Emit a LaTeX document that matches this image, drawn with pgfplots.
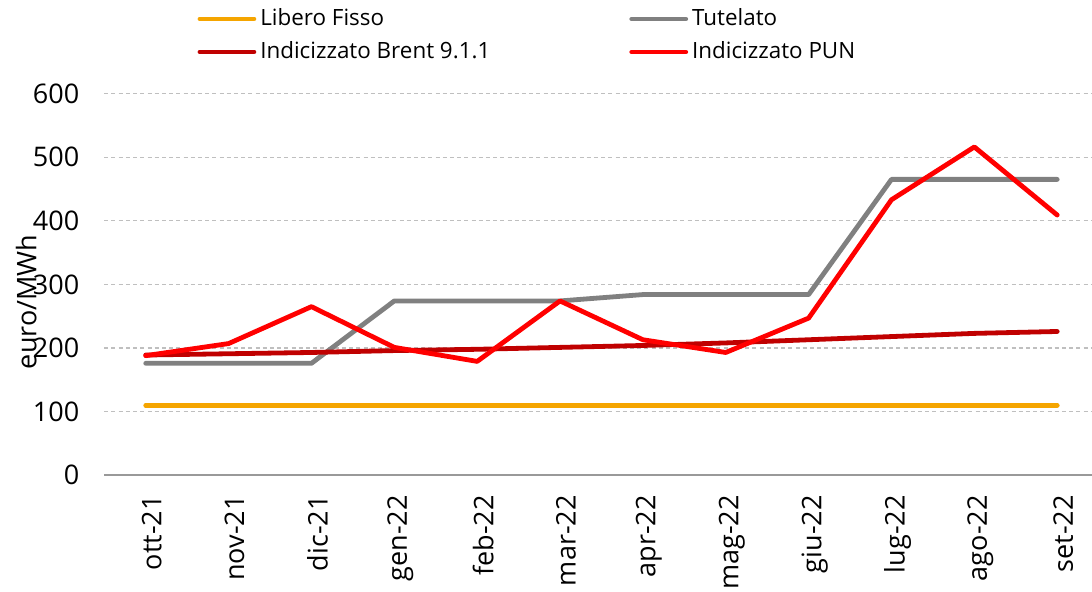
\documentclass[border=0pt]{standalone}
\usepackage{fontspec}
\setmainfont{Open Sans}
\usepackage{pgfplots}
\pgfplotsset{compat=1.18}
\definecolor{libfisso}{HTML}{F5A500}
\definecolor{tutelato}{HTML}{808080}
\definecolor{brent}{HTML}{C00000}
\definecolor{pun}{HTML}{FF0000}
\definecolor{gridgray}{HTML}{BFBFBF}

\begin{document}
\begin{tikzpicture}
\path[use as bounding box] (0,0) rectangle (546pt,296pt);
\begin{axis}[at={(52.15pt,58.35pt)},anchor=south west,
  scale only axis,width=493.85pt,height=190.9pt,
  xmin=-0.5,xmax=11.42,ymin=0,ymax=600,
  ytick={0,100,...,600},
  xtick={0,...,11},
  xticklabels={ott-21,nov-21,dic-21,gen-22,feb-22,mar-22,apr-22,mag-22,giu-22,lug-22,ago-22,set-22},
  /pgf/number format/assume math mode=true,
  axis line style={draw=none},major tick length=0pt,
  ymajorgrids,
  grid style={gridgray,line width=0.6pt,dash pattern=on 2pt off 1.6pt},
  extra y ticks={0},extra y tick labels={},
  extra y tick style={grid style={solid,gridgray!80!black,line width=0.8pt}},
  yticklabel style={font=\fontsize{13.5}{15}\selectfont,xshift=-9pt},
  xticklabel style={font=\fontsize{13.5}{15}\selectfont,xshift=3pt,yshift=-6.5pt,rotate=90,anchor=east},
  ylabel={euro/MWh},
  ylabel style={font=\fontsize{13.5}{15}\selectfont,at={(rel axis cs:-0.079,0.454)},anchor=center,rotate=0},
  legend columns=2,
  legend style={draw=none,fill=none,inner sep=0pt,
    at={(rel axis cs:0.094,1.233)},anchor=north west,
    font=\fontsize{11.2}{12}\selectfont,
    row sep=2.5pt,
    /tikz/column 2/.style={column sep=67.5pt}},
  legend cell align=left,
  legend image code/.code={\draw[#1,line cap=round] (0pt,0pt) -- (27pt,0pt);},
  every axis plot/.append style={line width=2.4pt,line join=round,line cap=round},
]
\addplot[libfisso] coordinates {(0,110)(1,110)(2,110)(3,110)(4,110)(5,110)(6,110)(7,110)(8,110)(9,110)(10,110)(11,110)};
\addplot[tutelato] coordinates {(0,176)(1,176)(2,176)(3,274)(4,274)(5,274)(6,284)(7,284)(8,284)(9,465)(10,465)(11,465)};
\addplot[brent] coordinates {(0,189)(1,191)(2,193)(3,196)(4,198)(5,201)(6,204)(7,208)(8,213)(9,218)(10,223)(11,226)};
\addplot[pun] coordinates {(0,188)(1,207)(2,265)(3,201)(4,179)(5,274)(6,213)(7,193)(8,247)(9,433)(10,516)(11,409)};
\legend{Libero Fisso,Tutelato,Indicizzato Brent 9.1.1,Indicizzato PUN}
\end{axis}
\end{tikzpicture}
\end{document}
